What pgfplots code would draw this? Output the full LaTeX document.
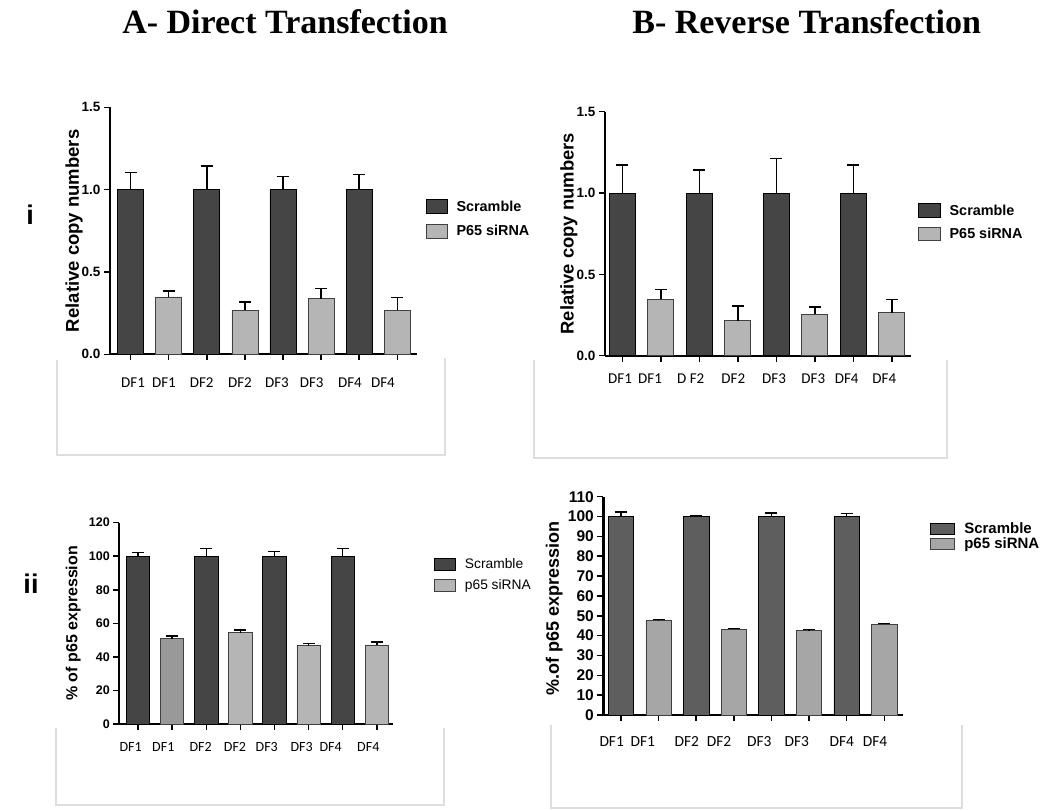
\documentclass[border=0pt]{standalone}
\usepackage{pgfplots}
\pgfplotsset{compat=1.18}
\usepackage{fontspec}
\setmainfont{Liberation Sans}
\newfontfamily\arial{Liberation Sans}
\newfontfamily\timesfont{Liberation Serif}
\newfontfamily\calib{Carlito}
\newcommand\fs[1]{\fontsize{#1}{#1}\selectfont}

\definecolor{darkbar}{gray}{0.27}
\definecolor{lightbar}{gray}{0.71}
\definecolor{midbar}{gray}{0.60}
\definecolor{darkbarB}{gray}{0.37}
\definecolor{lightbarB}{gray}{0.65}
\definecolor{shadow}{gray}{0.87}

\pgfplotsset{
  panel/.style={
    scale only axis, anchor=south west,
    axis lines*=left,
    axis line style={line width=2pt, black},
    ybar, bar shift=0pt,
    ymin=0, enlarge x limits=false, enlarge y limits=false,
    tick align=outside, major tick length=6pt,
    tick style={line width=1.5pt, black},
    xtick={0,...,7}, xticklabels={,,,,,,,},
    extra x tick style={tick style={draw=none}},
    extra x tick labels={DF1,DF1,DF2,DF2,DF3,DF3,DF4,DF4},
    /pgf/number format/assume math mode=true,
    legend cell align=left,
    clip=false,
  },
  bars/.style={
    bar shift=0pt, draw=black, line width=0.7pt,
    error bars/y dir=plus, error bars/y explicit,
    error bars/error bar style={line width=1.5pt, black},
    error bars/error mark options={rotate=90, mark size=6pt, line width=1.5pt, black},
  },
  lbox/.style 2 args={legend image code/.code={%
    \draw[##1,/tikz/.cd] (0pt,-0.5*#2) rectangle (#1,0.5*#2);}},
}

\begin{document}
\begin{tikzpicture}
\useasboundingbox (0pt,0pt) rectangle (1040pt,810pt);

% shaded frames behind the category labels
\draw[shadow, line width=1.3pt] (57pt,450pt) -- (57pt,355pt) -- (445pt,355pt) -- (445pt,452pt);
\draw[shadow, line width=1.3pt] (534pt,450pt) -- (534pt,352pt) -- (947pt,352pt) -- (947pt,450pt);
\draw[shadow, line width=1.3pt] (56pt,82pt) -- (56pt,5pt) -- (444pt,5pt) -- (444pt,82pt);
\draw[shadow, line width=1.3pt] (551pt,85pt) -- (551pt,2pt) -- (962pt,2pt) -- (962pt,85pt);

% titles and row labels
\node[anchor=base, font=\timesfont\bfseries\fs{34}] at (285pt,776.7pt) {A- Direct Transfection};
\node[anchor=base, font=\timesfont\bfseries\fs{34}] at (806.7pt,776.7pt) {B- Reverse Transfection};
\node[anchor=base, font=\arial\bfseries\fs{27}] at (30pt,585pt) {i};
\node[anchor=base, font=\arial\bfseries\fs{27}] at (31pt,216pt) {ii};

% A (i): relative copy numbers, direct transfection
\begin{axis}[panel, at={(110pt,455.7pt)}, width=306.7pt, height=247pt,
  xmin=-0.54, xmax=7.51, ymax=1.5, ytick={0,0.5,1,1.5},
  bar width=26pt,
  yticklabel style={font=\arial\bfseries\fs{13.5}, /pgf/number format/fixed, /pgf/number format/fixed zerofill, /pgf/number format/precision=1},
  ylabel={Relative copy numbers},
  ylabel style={at={(axis description cs:-0.117,0.5)}, anchor=center, font=\arial\bfseries\fs{18.5}},
  extra x ticks={0.064,0.877,1.867,2.872,3.843,4.754,5.759,6.625},
  xticklabel style={anchor=base, yshift=-27pt, font=\calib\fs{15}},
  legend style={at={(axis description cs:1.029,0.6275)}, anchor=north west, draw=none, fill=none,
    inner sep=0pt, font=\arial\bfseries\fs{14.4}, row sep=9.4pt, column sep=9pt, nodes={inner sep=0pt}},
]
\addplot[bars, fill=darkbar, lbox={21pt}{14pt}] coordinates {
  (0,1) +- (0,0.103) (2,1) +- (0,0.144) (4,1) +- (0,0.079) (6,1) +- (0,0.091)};
\addlegendentry{Scramble}
\addplot[bars, fill=lightbar, draw=black!75, lbox={21pt}{14pt}] coordinates {
  (1,0.348) +- (0,0.035) (3,0.267) +- (0,0.051) (5,0.338) +- (0,0.063) (7,0.267) +- (0,0.079)};
\addlegendentry{P65 siRNA}
\end{axis}

% B (i): relative copy numbers, reverse transfection
\begin{axis}[panel, at={(605pt,454.3pt)}, width=305.7pt, height=244pt,
  xmin=-0.45, xmax=7.49, ymax=1.5, ytick={0,0.5,1,1.5},
  bar width=26pt,
  yticklabel style={font=\arial\bfseries\fs{13.5}, /pgf/number format/fixed, /pgf/number format/fixed zerofill, /pgf/number format/precision=1},
  ylabel={Relative copy numbers},
  ylabel style={at={(axis description cs:-0.118,0.5)}, anchor=center, font=\arial\bfseries\fs{18.4}},
  extra x ticks={-0.06,0.719,1.776,2.882,3.940,4.960,5.828,6.805},
  extra x tick labels={DF1,DF1,D F2,DF2,DF3,DF3,DF4,DF4},
  xticklabel style={anchor=base, yshift=-21.6pt, font=\calib\fs{15}},
  legend style={at={(axis description cs:1.023,0.6246)}, anchor=north west, draw=none, fill=none,
    inner sep=0pt, font=\arial\bfseries\fs{14.4}, row sep=9.4pt, column sep=9pt, nodes={inner sep=0pt}},
]
\addplot[bars, fill=darkbar, lbox={22pt}{13.4pt}] coordinates {
  (0,1) +- (0,0.172) (2,1) +- (0,0.141) (4,1) +- (0,0.213) (6,1) +- (0,0.172)};
\addlegendentry{Scramble}
\addplot[bars, fill=lightbar, draw=black!75, lbox={22pt}{13.4pt}] coordinates {
  (1,0.346) +- (0,0.060) (3,0.215) +- (0,0.092) (5,0.254) +- (0,0.045) (7,0.264) +- (0,0.080)};
\addlegendentry{P65 siRNA}
\end{axis}

% A (ii): p65 expression, direct transfection
\begin{axis}[panel, at={(119.3pt,86pt)}, width=274pt, height=201.3pt,
  xmin=-0.55, xmax=7.485, ymax=120, ytick={0,20,...,120},
  bar width=23.3pt,
  yticklabel style={font=\arial\bfseries\fs{12.5}},
  ylabel={\% of p65 expression},
  ylabel style={at={(axis description cs:-0.168,0.5)}, anchor=center, font=\arial\bfseries\fs{16}},
  extra x ticks={-0.216,0.740,1.837,2.843,3.773,4.799,5.649,6.752},
  xticklabel style={anchor=base, yshift=-21.7pt, font=\calib\fs{14}},
  legend style={at={(axis description cs:1.146,0.826)}, anchor=north west, draw=none, fill=none,
    inner sep=0pt, font=\arial\fs{13.8}, row sep=9pt, column sep=9pt, nodes={inner sep=0pt}},
]
\addplot[bars, fill=darkbar, lbox={21.7pt}{11.6pt}] coordinates {
  (0,100) +- (0,2.3) (2,100) +- (0,4.7) (4,100) +- (0,2.7) (6,100) +- (0,4.7)};
\addlegendentry{Scramble}
\addplot[bars, fill=midbar, draw=black!75, forget plot] coordinates {
  (1,50.9) +- (0,1.6)};
\addplot[bars, fill=lightbar, draw=black!75, lbox={21.7pt}{11.6pt}] coordinates {
  (3,54.4) +- (0,1.6) (5,46.7) +- (0,1.2) (7,47.1) +- (0,1.8)};
\addlegendentry{p65 siRNA}
\end{axis}

% B (ii): p65 expression, reverse transfection
\begin{axis}[panel, at={(603.3pt,95pt)}, width=299.4pt, height=218.3pt,
  xmin=-0.47, xmax=7.49, ymax=110, ytick={0,10,...,110},
  axis line style={line width=2.8pt, black},
  bar width=25.5pt,
  yticklabel style={font=\arial\bfseries\fs{15.5}},
  ylabel={\%.of p65 expression},
  ylabel style={at={(axis description cs:-0.164,0.49)}, anchor=center, font=\arial\bfseries\fs{18}},
  extra x ticks={-0.247,0.578,1.748,2.607,3.679,4.674,5.870,6.756},
  xticklabel style={anchor=base, yshift=-25.7pt, font=\calib\fs{15.4}},
  legend style={at={(axis description cs:1.089,0.883)}, anchor=north west, draw=none, fill=none,
    inner sep=0pt, font=\arial\bfseries\fs{15}, row sep=3pt, column sep=10pt, nodes={inner sep=0pt}},
]
\addplot[bars, fill=darkbarB, lbox={24pt}{11pt}] coordinates {
  (0,100) +- (0,2.3) (2,100) +- (0,0.4) (4,100) +- (0,1.9) (6,100) +- (0,1.6)};
\addlegendentry{Scramble}
\addplot[bars, fill=lightbarB, draw=black!75, lbox={24pt}{11pt}] coordinates {
  (1,47.5) +- (0,0.7) (3,43.2) +- (0,0.5) (5,42.5) +- (0,0.7) (7,45.7) +- (0,0.5)};
\addlegendentry{p65 siRNA}
\end{axis}
\end{tikzpicture}
\end{document}
